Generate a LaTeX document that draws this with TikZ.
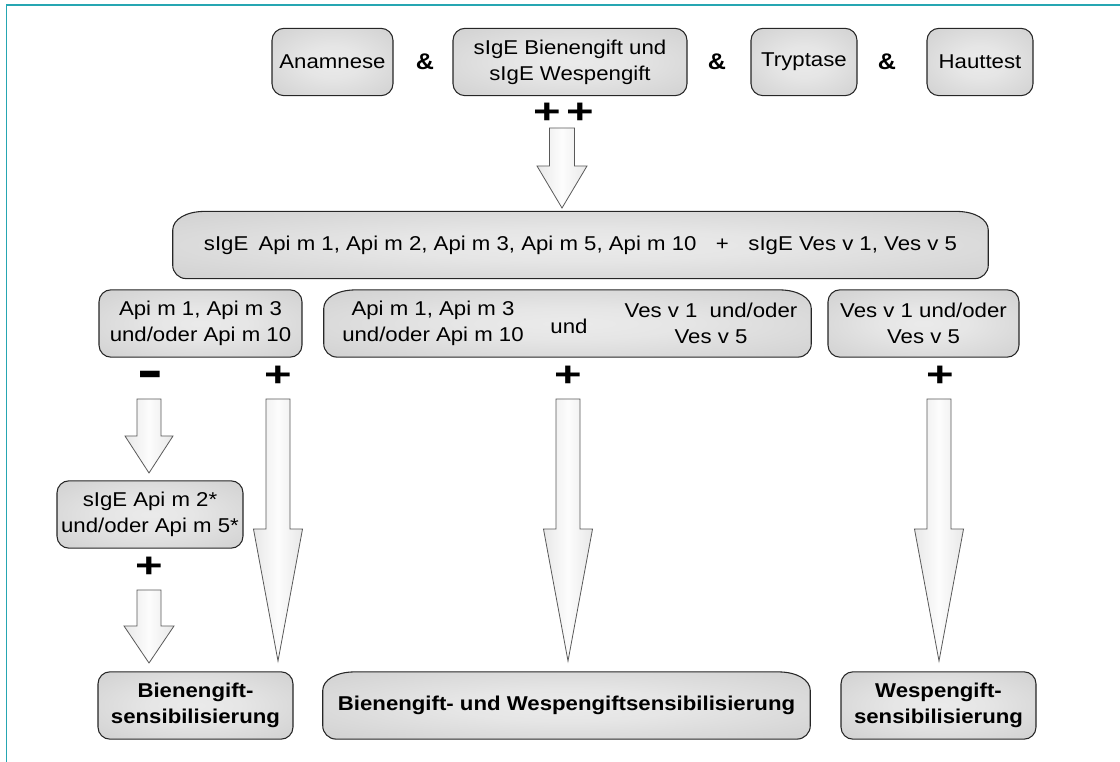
\documentclass[tikz,border=0pt]{standalone}
\usepackage{fontspec}
\setmainfont{Liberation Sans}[FakeStretch=1.11]
\usepackage{graphicx}
\usetikzlibrary{calc,backgrounds}

\definecolor{frameteal}{RGB}{38,166,178}
\pgfdeclareradialshading{boxshade}{\pgfpoint{0bp}{0bp}}{%
  color(0bp)=(black!8); color(12bp)=(black!10); color(50bp)=(black!23); color(75bp)=(black!25)}

% shaded block arrow between two named points
\newcommand{\blockarrow}[5]{%
  \path[fatarrow] let \p1=(#1), \p2=(#2) in
    (\x1-#3,\y1) -- (\x1+#3,\y1) -- (\x1+#3,\y2+#5) -- (\x1+#4,\y2+#5)
    -- (\x1,\y2) -- (\x1-#4,\y2+#5) -- (\x1-#3,\y2+#5) -- cycle;}

% wide box outline: big round top corners, small bottom ones
\newcommand{\wideframe}[1]{%
  \begin{pgfonlayer}{background}
  \path[widefill] let \p1=(#1.south west), \p2=(#1.north east) in
    (\x1,\y1+10pt) -- (\x1,\y2-14pt)
    .. controls (\x1,\y2-6pt) and (\x1+10pt,\y2) .. (\x1+24pt,\y2)
    -- (\x2-24pt,\y2)
    .. controls (\x2-10pt,\y2) and (\x2,\y2-6pt) .. (\x2,\y2-14pt)
    -- (\x2,\y1+10pt)
    .. controls (\x2,\y1+4.5pt) and (\x2-4.5pt,\y1) .. (\x2-10pt,\y1)
    -- (\x1+10pt,\y1)
    .. controls (\x1+4.5pt,\y1) and (\x1,\y1+4.5pt) .. (\x1,\y1+10pt) -- cycle;
  \end{pgfonlayer}}

\begin{document}
\begin{tikzpicture}[x=0.75pt,y=-0.75pt,
  frame/.style={draw=frameteal,line width=1.4pt},
  box/.style={rectangle,rounded corners=9pt,draw=black!85,line width=0.8pt,
    shade,shading=boxshade,minimum height=50.5pt,
    inner sep=0pt,align=center,font=\fontsize{15}{19.3}\selectfont},
  widebox/.style={rectangle,minimum height=50pt,inner sep=0pt,align=center,
    font=\fontsize{15}{19.3}\selectfont},
  widefill/.style={draw=black!85,line width=0.8pt,shade,shading=boxshade},
  txt/.style={inner sep=0pt,align=center,font=\fontsize{15}{19.3}\selectfont},
  result/.style={box,font=\fontsize{15}{19.3}\bfseries\selectfont},
  amp/.style={inner sep=0pt,font=\fontsize{17}{17}\bfseries\selectfont},
  sign/.style={inner sep=0pt,font=\fontsize{29}{29}\bfseries\selectfont},
  fatarrow/.style={draw=black!65,line width=0.6pt,left color=black!9,
    right color=black!9,middle color=black!1}]
  \useasboundingbox (0,0) rectangle (1120,762);
  \draw[frame] (1120,5) -- (6.5,5) -- (6.5,762);

  % tests
  \node[box,minimum width=90.75pt] (anam) at (332.5,62) {Anamnese};
  \node[amp] (amp1) at (425,62) {\&};
  \node[box,minimum width=175.5pt] (sige) at (570,62) {sIgE Bienengift und\\sIgE Wespengift};
  \node[amp] (amp2) at (717,62) {\&};
  \node[box,minimum width=79.5pt] (tryp) at (804,62) {Tryptase};
  \node[amp] (amp3) at (887,62) {\&};
  \node[box,minimum width=79.5pt] (haut) at (980,62) {Hauttest};
  \node[sign] (pp1) at (547,113) {\scalebox{1.1}[0.9]{+}};
  \node[sign] (pp2) at (580,113) {\scalebox{1.1}[0.9]{+}};

  % components
  \node[widebox,minimum width=611.25pt] (comp) at (580.5,245)
    {sIgE\hspace{3pt} Api m 1, Api m 2, Api m 3, Api m 5, Api m 10\hspace{10pt} +\hspace{10pt} sIgE Ves v 1, Ves v 5};
  \wideframe{comp}

  \node[box,minimum width=152.25pt] (apipos) at (200.5,323.5) {Api m 1, Api m 3\\und/oder Api m 10};
  \node[widebox,minimum width=365.25pt] (both) at (567.5,323.5) {};
  \wideframe{both}
  \node[txt] (bothapi) at (433,323.5) {Api m 1, Api m 3\\und/oder Api m 10};
  \node[txt] (bothund) at (569,326) {und};
  \node[txt] (bothves) at (711,323.5) {Ves v 1\hspace{4.5pt} und/oder\\Ves v 5};
  \node[box,minimum width=143.25pt] (vespos) at (923.5,323.5) {Ves v 1 und/oder\\Ves v 5};

  \node[sign] (minus) at (150,380) {\scalebox{1.8}[1.4]{-}};
  \node[sign] (plapi) at (278,376) {\scalebox{1.1}[0.9]{+}};
  \node[sign] (plboth) at (568,376) {\scalebox{1.1}[0.9]{+}};
  \node[sign] (plves) at (940,376) {\scalebox{1.1}[0.9]{+}};

  \node[box,minimum width=139.5pt] (api2) at (150,514.5) {sIgE Api m 2*\\und/oder Api m 5*};
  \node[sign] (plapi2) at (149,567) {\scalebox{1.1}[0.9]{+}};

  % results
  \node[result,minimum width=146.25pt] (bee) at (195.5,705.5) {Bienengift-\\sensibilisierung};
  \node[widebox,font=\fontsize{15}{19.3}\bfseries\selectfont,minimum width=365.25pt]
    (beewasp) at (566.5,705.5) {Bienengift- und Wespengiftsensibilisierung};
  \wideframe{beewasp}
  \node[result,minimum width=146.25pt] (wasp) at (938.5,705.5) {Wespengift-\\sensibilisierung};

  % arrows
  \coordinate (a0s) at (562,128);  \coordinate (a0e) at (562,208);
  \coordinate (a1s) at (149,399);  \coordinate (a1e) at (149,473);
  \coordinate (a2s) at (149,590);  \coordinate (a2e) at (149,663);
  \coordinate (a3s) at (278,399);  \coordinate (a3e) at (278,661);
  \coordinate (a4s) at (568,399);  \coordinate (a4e) at (568,661);
  \coordinate (a5s) at (939,399);  \coordinate (a5e) at (939,661);
  \blockarrow{a0s}{a0e}{9.4pt}{18.75pt}{31.5pt}
  \blockarrow{a1s}{a1e}{9pt}{18pt}{27.75pt}
  \blockarrow{a2s}{a2e}{9pt}{18.75pt}{27.75pt}
  \blockarrow{a3s}{a3e}{9pt}{18.4pt}{99pt}
  \blockarrow{a4s}{a4e}{9pt}{18.4pt}{99pt}
  \blockarrow{a5s}{a5e}{9pt}{18.4pt}{99pt}
\end{tikzpicture}
\end{document}
